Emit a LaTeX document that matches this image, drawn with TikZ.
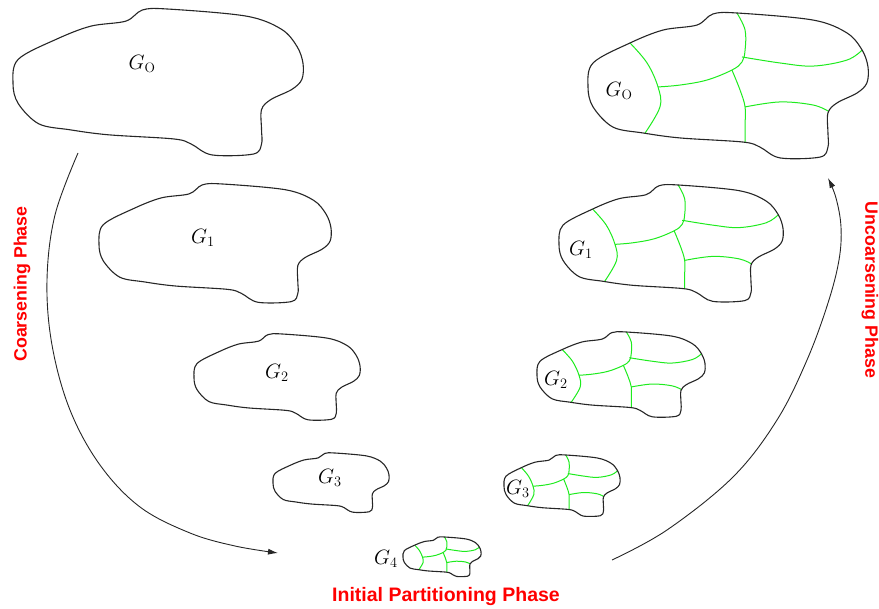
\documentclass[tikz,border=0pt]{standalone}
\usepackage{fontspec}
\setsansfont{Liberation Sans}
\usetikzlibrary{arrows.meta}
\definecolor{partgreen}{RGB}{30,235,30}
\definecolor{phasered}{RGB}{255,0,0}
\tikzset{
  outline/.style={draw=black!85, line width=1.1pt},
  partline/.style={draw=partgreen, line width=1pt},
  glabel/.style={font=\fontsize{19.5}{22}\selectfont, inner sep=0pt},
  phase/.style={text=phasered, font=\sffamily\bfseries\fontsize{17.8}{21}\selectfont, inner sep=0pt},
  phasearrow/.style={draw=black!85, line width=0.9pt, -{Latex[length=10pt,width=6pt]}}
}
% outline of one graph in a unit box
\newcommand{\graphoutline}{plot[smooth cycle, tension=0.55] coordinates {(0.446,0.007) (0.532,0) (0.804,0.048) (0.925,0.136) (0.979,0.252) (1.0,0.367) (0.996,0.476) (0.961,0.544) (0.889,0.612) (0.857,0.680) (0.857,0.816) (0.857,0.912) (0.829,0.980) (0.686,0.986) (0.614,0.912) (0.554,0.878) (0.329,0.850) (0.196,0.816) (0.089,0.776) (0.018,0.639) (0,0.503) (0.018,0.340) (0.150,0.204) (0.268,0.116) (0.389,0.082)}}
% graph at (x,y) with width and height
\newcommand{\graphat}[4]{\draw[outline, shift={(#1,#2)}, xscale=#3, yscale=#4] \graphoutline;}
% partition lines of one graph
\newcommand{\partsat}[4]{%
\begin{scope}[shift={(#1,#2)}, xscale=#3, yscale=#4]
\draw[partline] plot[smooth, tension=0.6] coordinates {(0.532,0) (0.561,0.116) (0.561,0.252) (0.55,0.333) (0.514,0.388) (0.425,0.456) (0.329,0.490) (0.25,0.503)};
\draw[partline] plot[smooth, tension=0.6] coordinates {(0.150,0.204) (0.211,0.340) (0.25,0.503) (0.257,0.639) (0.204,0.816)};
\draw[partline] plot[smooth, tension=0.6] coordinates {(0.55,0.299) (0.686,0.340) (0.804,0.361) (0.925,0.320) (0.979,0.252)};
\draw[partline] plot[smooth, tension=0.6] coordinates {(0.514,0.388) (0.543,0.524) (0.561,0.639) (0.561,0.762) (0.561,0.878)};
\draw[partline] plot[smooth, tension=0.6] coordinates {(0.561,0.639) (0.686,0.605) (0.804,0.626) (0.86,0.67)};
\end{scope}}

\begin{document}
\begin{tikzpicture}[x=1pt, y=-1pt]
\useasboundingbox (0,0) rectangle (879,609);

% coarsening side
\graphat{13}{9}{290}{148}
\graphat{99}{184}{232}{120}
\graphat{194}{334}{166}{87}
\graphat{273}{453}{116}{60}
\node[glabel] (lg0) at (142,64) {$G_\mathrm{O}$};
\node[glabel] (lg1) at (203,238) {$G_1$};
\node[glabel] (lg2) at (277,373) {$G_2$};
\node[glabel] (lg3) at (330,478) {$G_3$};

% coarsest graph
\partsat{403}{537}{78}{40}
\graphat{403}{537}{78}{40}
\node[glabel] (g4) at (386,559) {$G_4$};

% uncoarsening side
\partsat{588}{13}{280}{147}
\graphat{588}{13}{280}{147}
\partsat{559}{185}{224}{118}
\graphat{559}{185}{224}{118}
\partsat{537}{332}{168}{86}
\graphat{537}{332}{168}{86}
\partsat{504}{455}{116}{62}
\graphat{504}{455}{116}{62}
\node[glabel] (rg0) at (619,91) {$G_\mathrm{O}$};
\node[glabel] (rg1) at (581,250) {$G_1$};
\node[glabel] (rg2) at (556,380) {$G_2$};
\node[glabel] (rg3) at (518,489) {$G_3$};

% phases
\coordinate (cstart) at (78,153);
\coordinate (cend) at (278,553);
\draw[phasearrow] plot[smooth, tension=0.6] coordinates {(cstart) (55,215) (47,280) (52,345) (70,410) (100,465) (140,507) (190,533) (235,546) (cend)};
\coordinate (ustart) at (612,560);
\coordinate (uend) at (828,178);
\draw[phasearrow] plot[smooth, tension=0.6] coordinates {(ustart) (667,530) (733,477) (777,420) (807,360) (828,303) (839,260) (841,227) (836,198) (uend)};

\node[phase, rotate=90] (coarsening) at (22,284) {Coarsening Phase};
\node[phase, rotate=-90] (uncoarsening) at (870,290) {Uncoarsening Phase};
\node[phase, font=\sffamily\bfseries\fontsize{19.5}{22}\selectfont] (initial) at (446,597) {Initial Partitioning Phase};
\end{tikzpicture}
\end{document}
